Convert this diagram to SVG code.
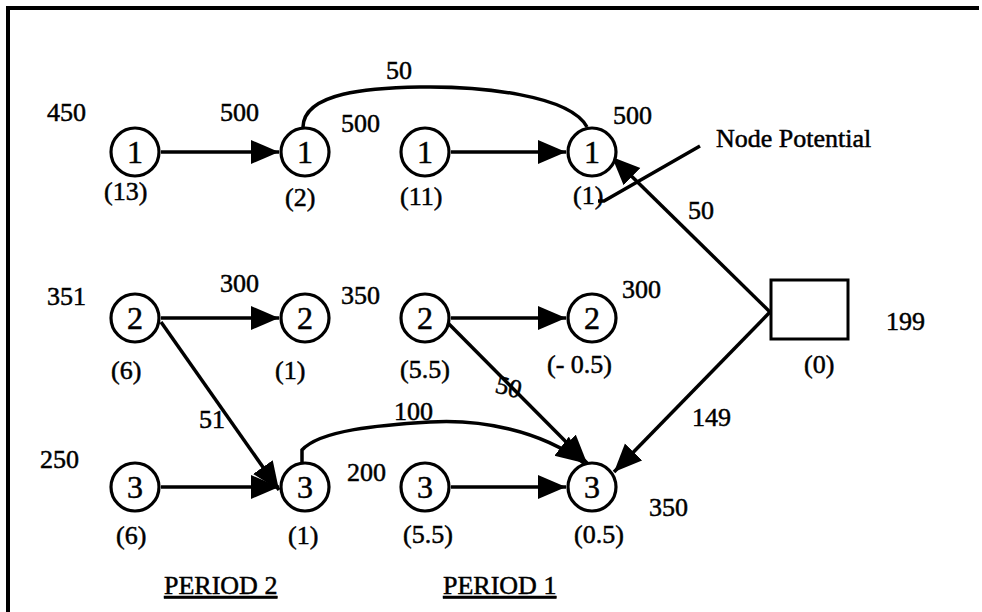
<svg xmlns="http://www.w3.org/2000/svg" width="982" height="612" viewBox="0 0 982 612">
<style>
.t{font-family:"Liberation Serif","Times New Roman",serif;font-size:26px;fill:#000;stroke:#000;stroke-width:0.5}
.n{font-family:"Liberation Serif","Times New Roman",serif;font-size:32px;fill:#000;stroke:#000;stroke-width:0.5;text-anchor:middle}
.c{fill:#fff;stroke:#000;stroke-width:3.2}
.e{fill:none;stroke:#000;stroke-width:3.5}
.a{marker-end:url(#ah)}
</style>
<defs>
<marker id="ah" markerUnits="userSpaceOnUse" markerWidth="30" markerHeight="26" refX="28" refY="12" orient="auto">
<path d="M0,0 L28,12 L0,24 z" fill="#000"/>
</marker>
</defs>
<rect width="982" height="612" fill="#fff"/>
<path d="M8,612 L8,8 L979,8" fill="none" stroke="#000" stroke-width="4"/>

<g id="connectors">
<line class="e a" x1="161" y1="152" x2="279" y2="152"/>
<line class="e a" x1="451" y1="152" x2="566" y2="152"/>
<path class="e" d="M303,127 C304,92 370,88 420,87 C480,86 570,95 587,127"/>
<line class="e a" x1="770" y1="312" x2="612" y2="157"/>
<line class="e a" x1="770" y1="312" x2="614" y2="472"/>
<polyline class="e" points="700,146 604,201 598,201"/>
<line class="e a" x1="161" y1="318" x2="279" y2="318"/>
<line class="e a" x1="451" y1="318" x2="566" y2="318"/>
<line class="e a" x1="161" y1="322" x2="279" y2="490"/>
<line class="e a" x1="443" y1="318" x2="587" y2="463"/>
<path class="e a" d="M302,463 L302,450 C320,430 380,425 430,422 C480,419 540,430 584,463"/>
<line class="e a" x1="161" y1="487" x2="279" y2="487"/>
<line class="e a" x1="451" y1="487" x2="566" y2="487"/>
</g>

<g id="n1a"><circle class="c" cx="135" cy="152" r="24"/><text class="n" x="135" y="163">1</text></g>
<g id="n1b"><circle class="c" cx="305" cy="152" r="24"/><text class="n" x="305" y="163">1</text></g>
<g id="n1c"><circle class="c" cx="425" cy="152" r="24"/><text class="n" x="425" y="163">1</text></g>
<g id="n1d"><circle class="c" cx="592" cy="152" r="24"/><text class="n" x="592" y="163">1</text></g>
<g id="n2a"><circle class="c" cx="135" cy="318" r="24"/><text class="n" x="135" y="329">2</text></g>
<g id="n2b"><circle class="c" cx="305" cy="318" r="24"/><text class="n" x="305" y="329">2</text></g>
<g id="n2c"><circle class="c" cx="425" cy="318" r="24"/><text class="n" x="425" y="329">2</text></g>
<g id="n2d"><circle class="c" cx="592" cy="318" r="24"/><text class="n" x="592" y="329">2</text></g>
<g id="n3a"><circle class="c" cx="135" cy="487" r="24"/><text class="n" x="135" y="498">3</text></g>
<g id="n3b"><circle class="c" cx="305" cy="487" r="24"/><text class="n" x="305" y="498">3</text></g>
<g id="n3c"><circle class="c" cx="425" cy="487" r="24"/><text class="n" x="425" y="498">3</text></g>
<g id="n3d"><circle class="c" cx="592" cy="487" r="24"/><text class="n" x="592" y="498">3</text></g>
<g id="source"><rect x="771" y="280" width="77" height="59" fill="#fff" stroke="#000" stroke-width="3"/></g>

<g id="labels">
<text class="t" x="47" y="121">450</text>
<text class="t" x="220" y="121">500</text>
<text class="t" x="341" y="132">500</text>
<text class="t" x="386" y="79">50</text>
<text class="t" x="613" y="124">500</text>
<text class="t" x="716" y="147">Node Potential</text>
<text class="t" x="688" y="219">50</text>
<text class="t" x="104" y="200">(13)</text>
<text class="t" x="285" y="206">(2)</text>
<text class="t" x="400" y="205">(11)</text>
<text class="t" x="573" y="204">(1)</text>
<text class="t" x="47" y="305">351</text>
<text class="t" x="220" y="292">300</text>
<text class="t" x="341" y="304">350</text>
<text class="t" x="622" y="298">300</text>
<text class="t" x="886" y="330">199</text>
<text class="t" x="804" y="373">(0)</text>
<text class="t" x="111" y="379">(6)</text>
<text class="t" x="275" y="379">(1)</text>
<text class="t" x="400" y="378">(5.5)</text>
<text class="t" x="547" y="373">(- 0.5)</text>
<text class="t" x="199" y="428">51</text>
<text class="t" x="394" y="420">100</text>
<text class="t" transform="translate(494,392) rotate(15)">50</text>
<text class="t" x="692" y="426">149</text>
<text class="t" x="40" y="468">250</text>
<text class="t" x="347" y="481">200</text>
<text class="t" x="649" y="516">350</text>
<text class="t" x="116" y="544">(6)</text>
<text class="t" x="288" y="544">(1)</text>
<text class="t" x="403" y="543">(5.5)</text>
<text class="t" x="574" y="543">(0.5)</text>
<text class="t" x="164" y="594" text-decoration="underline">PERIOD 2</text>
<text class="t" x="443" y="594" text-decoration="underline">PERIOD 1</text>
</g>
</svg>
